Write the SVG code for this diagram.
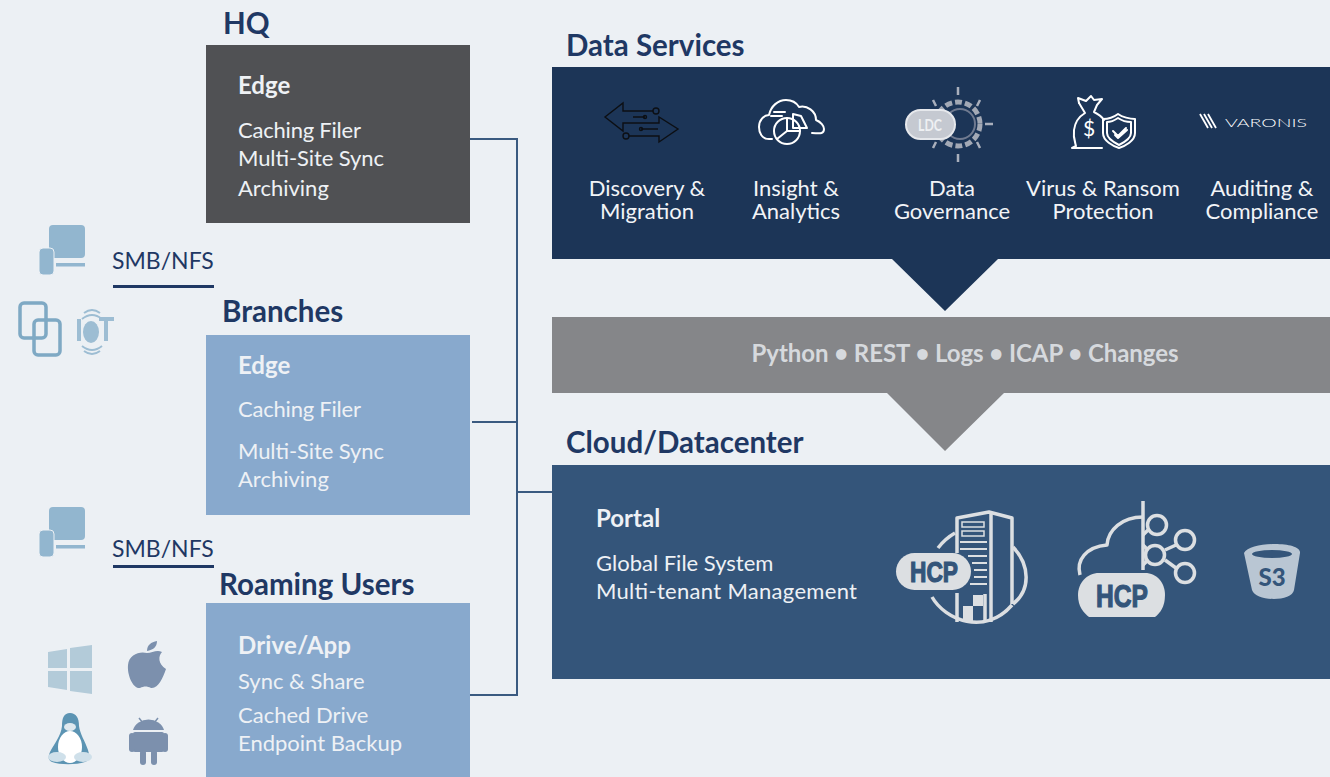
<svg xmlns="http://www.w3.org/2000/svg" width="1330" height="777" viewBox="0 0 1330 777">
<style>
text{font-family:Lato,"Open Sans","Liberation Sans",sans-serif}
.h{font-size:29.500px;font-weight:700;fill:#1f3864}
.t{font-size:22px;fill:#eef1f5}
.b{font-size:24px;font-weight:700;fill:#eef1f5}
.s{font-size:22px;fill:#f2f4f7;text-anchor:middle}
.smb{font-size:23px;fill:#1f3864}
.wl{fill:none;stroke:#fff;stroke-width:2;stroke-linecap:round;stroke-linejoin:round}
.hc{fill:none;stroke:#dcdfe2;stroke-width:3.500;stroke-linejoin:round}
.hf{fill:#dcdfe2}
.ht{font-size:29px;font-weight:700;fill:#34557a;stroke:#34557a;stroke-width:1.200;text-anchor:middle;font-family:"Liberation Sans",sans-serif}
.dev{fill:#92b6cf}
</style>
<defs>
<filter id="soft" x="-10%" y="-10%" width="120%" height="120%"><feGaussianBlur stdDeviation="0.6"/></filter>
<g id="devices">
<rect x="49" y="225" width="36" height="33" rx="4" class="dev"/>
<rect x="39" y="248" width="15" height="27" rx="4" class="dev" stroke="#ecf0f4" stroke-width="1"/>
<rect x="56" y="263" width="29" height="3.500" class="dev"/>
</g>
</defs>
<rect width="1330" height="777" fill="#ecf0f4"/>

<g id="connectors" fill="none" stroke="#3a5a80" stroke-width="2">
<path d="M470 139H517V695H470"/>
<path d="M472 422H517"/>
<path d="M517 492H552"/>
</g>

<g id="hq">
<text x="223" y="34" class="h">HQ</text>
<rect x="206" y="45" width="264" height="178" fill="#505154"/>
<text x="238" y="94" class="b">Edge</text>
<text x="238" y="138" class="t" textLength="123">Caching Filer</text>
<text x="238" y="166" class="t" textLength="146">Multi-Site Sync</text>
<text x="238" y="196" class="t">Archiving</text>
</g>

<g id="branches">
<text x="222" y="322" class="h">Branches</text>
<rect x="206" y="335" width="264" height="180" fill="#88a9cd"/>
<text x="238" y="374" class="b">Edge</text>
<text x="238" y="417" class="t" textLength="123">Caching Filer</text>
<text x="238" y="459" class="t" textLength="146">Multi-Site Sync</text>
<text x="238" y="487" class="t">Archiving</text>
</g>

<g id="roaming">
<text x="219" y="595" class="h">Roaming Users</text>
<rect x="206" y="603" width="264" height="174" fill="#88a9cd"/>
<text x="238" y="654" class="b" textLength="113">Drive/App</text>
<text x="238" y="689" class="t">Sync &amp; Share</text>
<text x="238" y="723" class="t">Cached Drive</text>
<text x="238" y="751" class="t">Endpoint Backup</text>
</g>

<g id="smb-top">
<use href="#devices" filter="url(#soft)"/>
<text x="112" y="269" class="smb">SMB/NFS</text>
<rect x="113" y="285" width="101" height="3" fill="#1f3864"/>
<g filter="url(#soft)" fill="none" stroke="#7fa9c4" stroke-width="3.500">
<rect x="20" y="303" width="26" height="35" rx="4"/>
<rect x="34" y="320" width="26" height="35" rx="4"/>
</g>
<g filter="url(#soft)" fill="#9dbdd3">
<rect x="77" y="319" width="4" height="22"/>
<ellipse cx="91" cy="332" rx="8" ry="11"/>
<path d="M99 317H114V321H108V341H104V321H99Z"/>
<g fill="none" stroke="#9dbdd3" stroke-width="2">
<path d="M84 313Q92 307 100 313"/>
<path d="M82 319Q92 311 102 319"/>
<path d="M82 346Q92 354 102 346"/>
<path d="M84 351Q92 357 100 351"/>
</g>
</g>
</g>

<g id="smb-bottom">
<use href="#devices" y="282" filter="url(#soft)"/>
<text x="112" y="557" class="smb">SMB/NFS</text>
<rect x="113" y="565" width="101" height="3" fill="#1f3864"/>
</g>

<g id="os-icons" filter="url(#soft)">
<path d="M48 652L67 649V668H48ZM70 648L92 645V668H70ZM48 671H67V690L48 687ZM70 671H92V694L70 691Z" fill="#b3cbd9"/>
<path d="M147 653C152 653 157 649 162 652C158 656 158 664 166 669C163 678 158 689 151 688C147 686 144 686 140 688C133 689 127 675 128 665C129 654 140 651 147 653Z" fill="#7b90ad"/>
<path d="M147 651C147 645 151 642 157 641C157 647 153 650 147 651Z" fill="#7b90ad"/>
<path d="M70 713C76 713 79 718 79 726C80 734 85 741 88 750C90 757 90 760 85 762C76 765 60 765 52 762C48 760 48 757 50 752C54 744 61 736 62 726C62 718 64 713 70 713Z" fill="#5c94b3"/>
<ellipse cx="70" cy="747" rx="12" ry="16" fill="#fff"/>
<ellipse cx="57" cy="757" rx="9" ry="5" fill="#cfe0ea"/>
<ellipse cx="83" cy="757" rx="9" ry="5" fill="#cfe0ea"/>
<ellipse cx="70" cy="727" rx="6" ry="4" fill="#dfe9ef"/>
<g fill="#7b90ad">
<path d="M133 730A16 14 0 0 1 164 730Z"/>
<rect x="133" y="732" width="31" height="20" rx="2"/>
<rect x="129" y="733" width="6" height="19" rx="3"/>
<rect x="162" y="733" width="6" height="19" rx="3"/>
<rect x="140" y="750" width="6" height="15" rx="3"/>
<rect x="151" y="750" width="6" height="15" rx="3"/>
<path d="M139 718L143 723M158 718L154 723" stroke="#7b90ad" stroke-width="1.500"/>
</g>
</g>

<g id="data-services">
<text x="566" y="56" class="h">Data Services</text>
<path d="M552 67H1330V259H998L945 311L892 259H552Z" fill="#1c3557"/>
<g fill="none" stroke="#0c0f14" stroke-width="1.400">
<path d="M653 111H623V103L605 117L623 131V123H659V117L678 129L659 142V136H629"/>
<path d="M633 117H645M641 129H658"/>
<circle cx="656" cy="111" r="3"/><circle cx="626" cy="136" r="3"/><circle cx="645" cy="117" r="1.500"/><circle cx="641" cy="129" r="1.500"/>
</g>
<g class="wl">
<path d="M772 139H769C762 139 759 133 759 127C759 120 764 115 769 115C771 106 778 100 786 100C791 100 796 102 799 107C807 105 816 111 816 120C821 122 824 126 824 129C824 135 818 133 812 133"/>
<path d="M774 112H785M771 116H782"/>
<circle cx="787" cy="131" r="13"/>
<path d="M787 131V118M787 131L777 139M787 131H800"/>
<path d="M793 114L801 116L807 128H793Z"/>
</g>
<g filter="url(#soft)">
<g stroke="#a9afbc" stroke-width="2.500" fill="none">
<path d="M958 87V95M958 154V162M985 124H993M980 100L977 106M933 100L936 106M980 148L977 142M933 148L936 142"/>
</g>
<circle cx="958" cy="124" r="22" fill="none" stroke="#a3a9b5" stroke-width="5" stroke-dasharray="7 3"/>
<circle cx="960" cy="124" r="15" fill="none" stroke="#6f7a90" stroke-width="2"/>
<rect x="906" y="110" width="49" height="29" rx="14.500" fill="#c5c9d1" stroke="#e6e8ec" stroke-width="2"/>
</g>
<text x="930" y="131" font-size="17" font-weight="700" fill="#eef0f3" text-anchor="middle" font-family="'Liberation Sans',sans-serif" textLength="24" lengthAdjust="spacingAndGlyphs">LDC</text>
<g class="wl" stroke-width="1.600">
<path d="M1079 103L1078 98L1086 101L1091 96L1094 100L1102 99L1097 105L1094 112C1098 114 1102 117 1104 120"/>
<path d="M1079 103L1085 113C1080 116 1075 122 1074 130C1073 138 1075 142 1076 146L1072 148M1072 148H1102"/>
<path d="M1118 114C1122 117 1130 119 1135 119V133C1135 141 1125 146 1119 148C1113 146 1103 141 1103 133V119C1108 119 1114 117 1118 114Z"/>
<path d="M1118 118C1121 120 1127 122 1131 122V133C1131 139 1123 143 1119 145C1115 143 1107 139 1107 133V122C1111 122 1115 120 1118 118Z"/>
<path d="M1113 131L1118 136L1126 128M1115 135L1118 138L1127 130"/>
</g>
<text x="1089" y="136" font-size="21" fill="#fff" text-anchor="middle">$</text>
<g fill="none" stroke="#fff" stroke-width="1.800"><path d="M1200 114L1208 128M1204 114L1212 128M1208 114L1216 128"/></g>
<text x="1225" y="127" font-size="12" font-weight="300" fill="#fff" textLength="82" lengthAdjust="spacingAndGlyphs">VARONIS</text>
<text x="647" y="196" class="s">Discovery &amp;</text><text x="647" y="219" class="s">Migration</text>
<text x="796" y="196" class="s">Insight &amp;</text><text x="796" y="219" class="s">Analytics</text>
<text x="952" y="196" class="s">Data</text><text x="952" y="219" class="s">Governance</text>
<text x="1103" y="196" class="s">Virus &amp; Ransom</text><text x="1103" y="219" class="s">Protection</text>
<text x="1262" y="196" class="s">Auditing &amp;</text><text x="1262" y="219" class="s">Compliance</text>
</g>

<g id="api-band">
<path d="M552 317H1330V393H1004L945 451L887 393H552Z" fill="#858689"/>
<text x="965" y="362" font-size="24" font-weight="700" fill="#d6d9dd" text-anchor="middle" textLength="427">Python • REST • Logs • ICAP • Changes</text>
</g>

<g id="cloud">
<text x="566" y="453" class="h">Cloud/Datacenter</text>
<rect x="552" y="465" width="778" height="214" fill="#34557a"/>
<text x="596" y="527" class="b">Portal</text>
<text x="596" y="571" class="t">Global File System</text>
<text x="596" y="599" class="t" textLength="261">Multi-tenant Management</text>
<g id="hcp-tower" filter="url(#soft)">
<path d="M938 548A56 56 0 0 1 955 533M1013 547C1030 565 1031 590 1013 604M932 597C945 620 985 636 1012 605" class="hc"/>
<path d="M957 553V518L989 512L1012 518V604M957 593V622M985 594V622" class="hc" stroke-width="2.500"/>
<path d="M991 513V622" class="hc"/>
<path d="M962 522H984V527H962ZM962 531H984V536H962Z" fill="none" stroke="#dcdfe2" stroke-width="1.500"/>
<path d="M960 542H987M960 549H987M968 556H987M972 563H987M974 570H987M974 577H987M970 584H987" fill="none" stroke="#dcdfe2" stroke-width="2"/>
<path d="M973 595H983V606H973V622H963V606H973Z" class="hf"/>
<rect x="896" y="553" width="75" height="37" rx="18.500" class="hf"/>
</g>
<text x="934" y="582" class="ht" textLength="48" lengthAdjust="spacingAndGlyphs">HCP</text>
<g id="hcp-cloud" filter="url(#soft)">
<path d="M1080 575C1076 560 1086 547 1107 545C1108 530 1122 517 1143 517" class="hc"/>
<path d="M1143 501V570" class="hc"/>
<path d="M1143 535L1148 530M1143 545L1148 550M1143 565L1148 560M1165 550L1176 545M1165 560L1176 568" class="hc"/>
<circle cx="1157" cy="525" r="9.500" class="hc" fill="#34557a"/>
<circle cx="1185" cy="540" r="9.500" class="hc" fill="#34557a"/>
<circle cx="1155" cy="555" r="9.500" class="hc" fill="#34557a"/>
<circle cx="1185" cy="573" r="9.500" class="hc" fill="#34557a"/>
<path d="M1099 573H1145C1157 573 1165 583 1165 595C1165 607 1160 613 1155 617H1089C1084 613 1078 607 1078 595C1078 583 1087 573 1099 573Z" class="hf"/>
</g>
<text x="1122" y="607" class="ht" style="font-size:32px" textLength="52" lengthAdjust="spacingAndGlyphs">HCP</text>
<g id="s3">
<path d="M1244 553C1250 541 1302 541 1300 553L1294 590C1292 602 1256 602 1252 590Z" fill="#b9c6d3"/>
<ellipse cx="1272" cy="554" rx="20" ry="4" fill="#34557a"/>
<text x="1272" y="586" font-size="24" font-weight="900" fill="#34557a" text-anchor="middle">S3</text>
</g>
</g>
</svg>
